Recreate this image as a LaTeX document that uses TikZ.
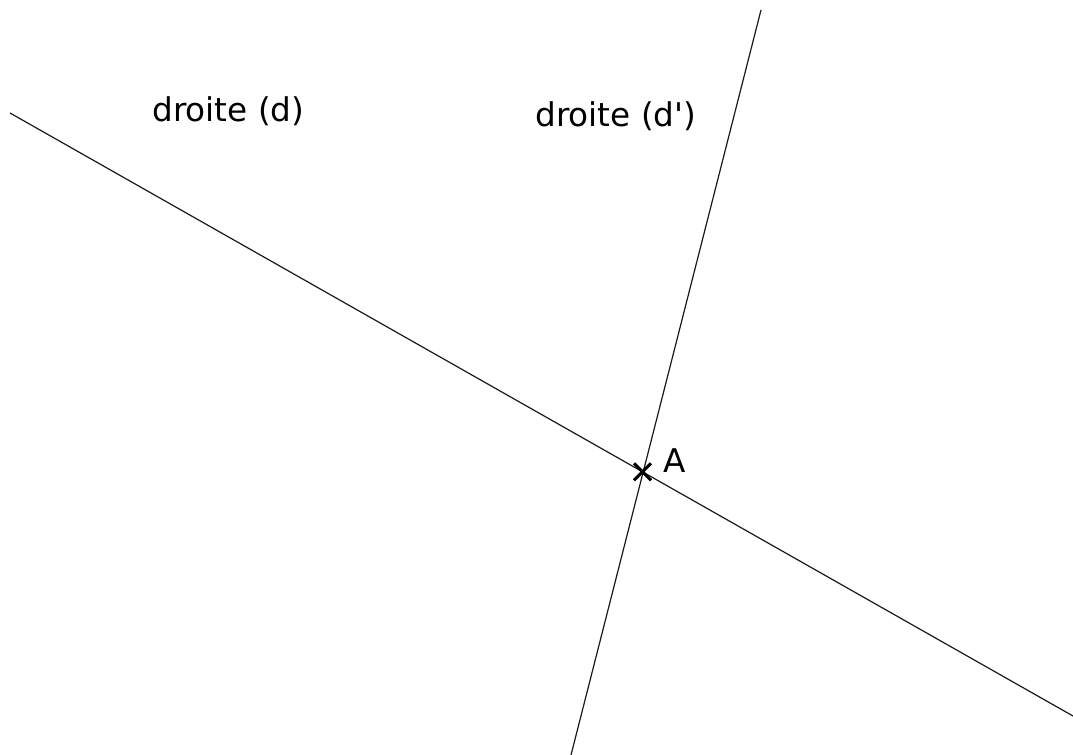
\documentclass[tikz,border=0pt]{standalone}
\usepackage{fontspec}
\newfontfamily\lblfont{DejaVu Sans}
\usetikzlibrary{calc}
\begin{document}
\begin{tikzpicture}[x=0.75pt,y=-0.75pt,
  lineD/.style={line width=0.9pt,black!90},
  crossmark/.style={line width=2.2pt,black},
  lbl/.style={font=\lblfont\fontsize{24.5}{29}\selectfont,anchor=base west,inner sep=0pt}]
\useasboundingbox[fill=white] (0,0) rectangle (1073,755);
\coordinate (d1) at (10,113);
\coordinate (d2) at (1073,716);
\coordinate (e1) at (761,10);
\coordinate (e2) at (571,755);
\coordinate (A) at (642.5,471.8);
\draw[lineD] (d1) -- (d2);
\draw[lineD] (e1) -- (e2);
\draw[crossmark] ($(A)+(-8.5,-8.5)$) -- ($(A)+(8.5,8.5)$);
\draw[crossmark] ($(A)+(-8.5,8.5)$) -- ($(A)+(8.5,-8.5)$);
\node[lbl] (labd) at (152,122) {droite (d)};
\node[lbl] (labdp) at (535,127) {droite (d')};
\node[lbl] (labA) at (663,472) {A};
\end{tikzpicture}
\end{document}
